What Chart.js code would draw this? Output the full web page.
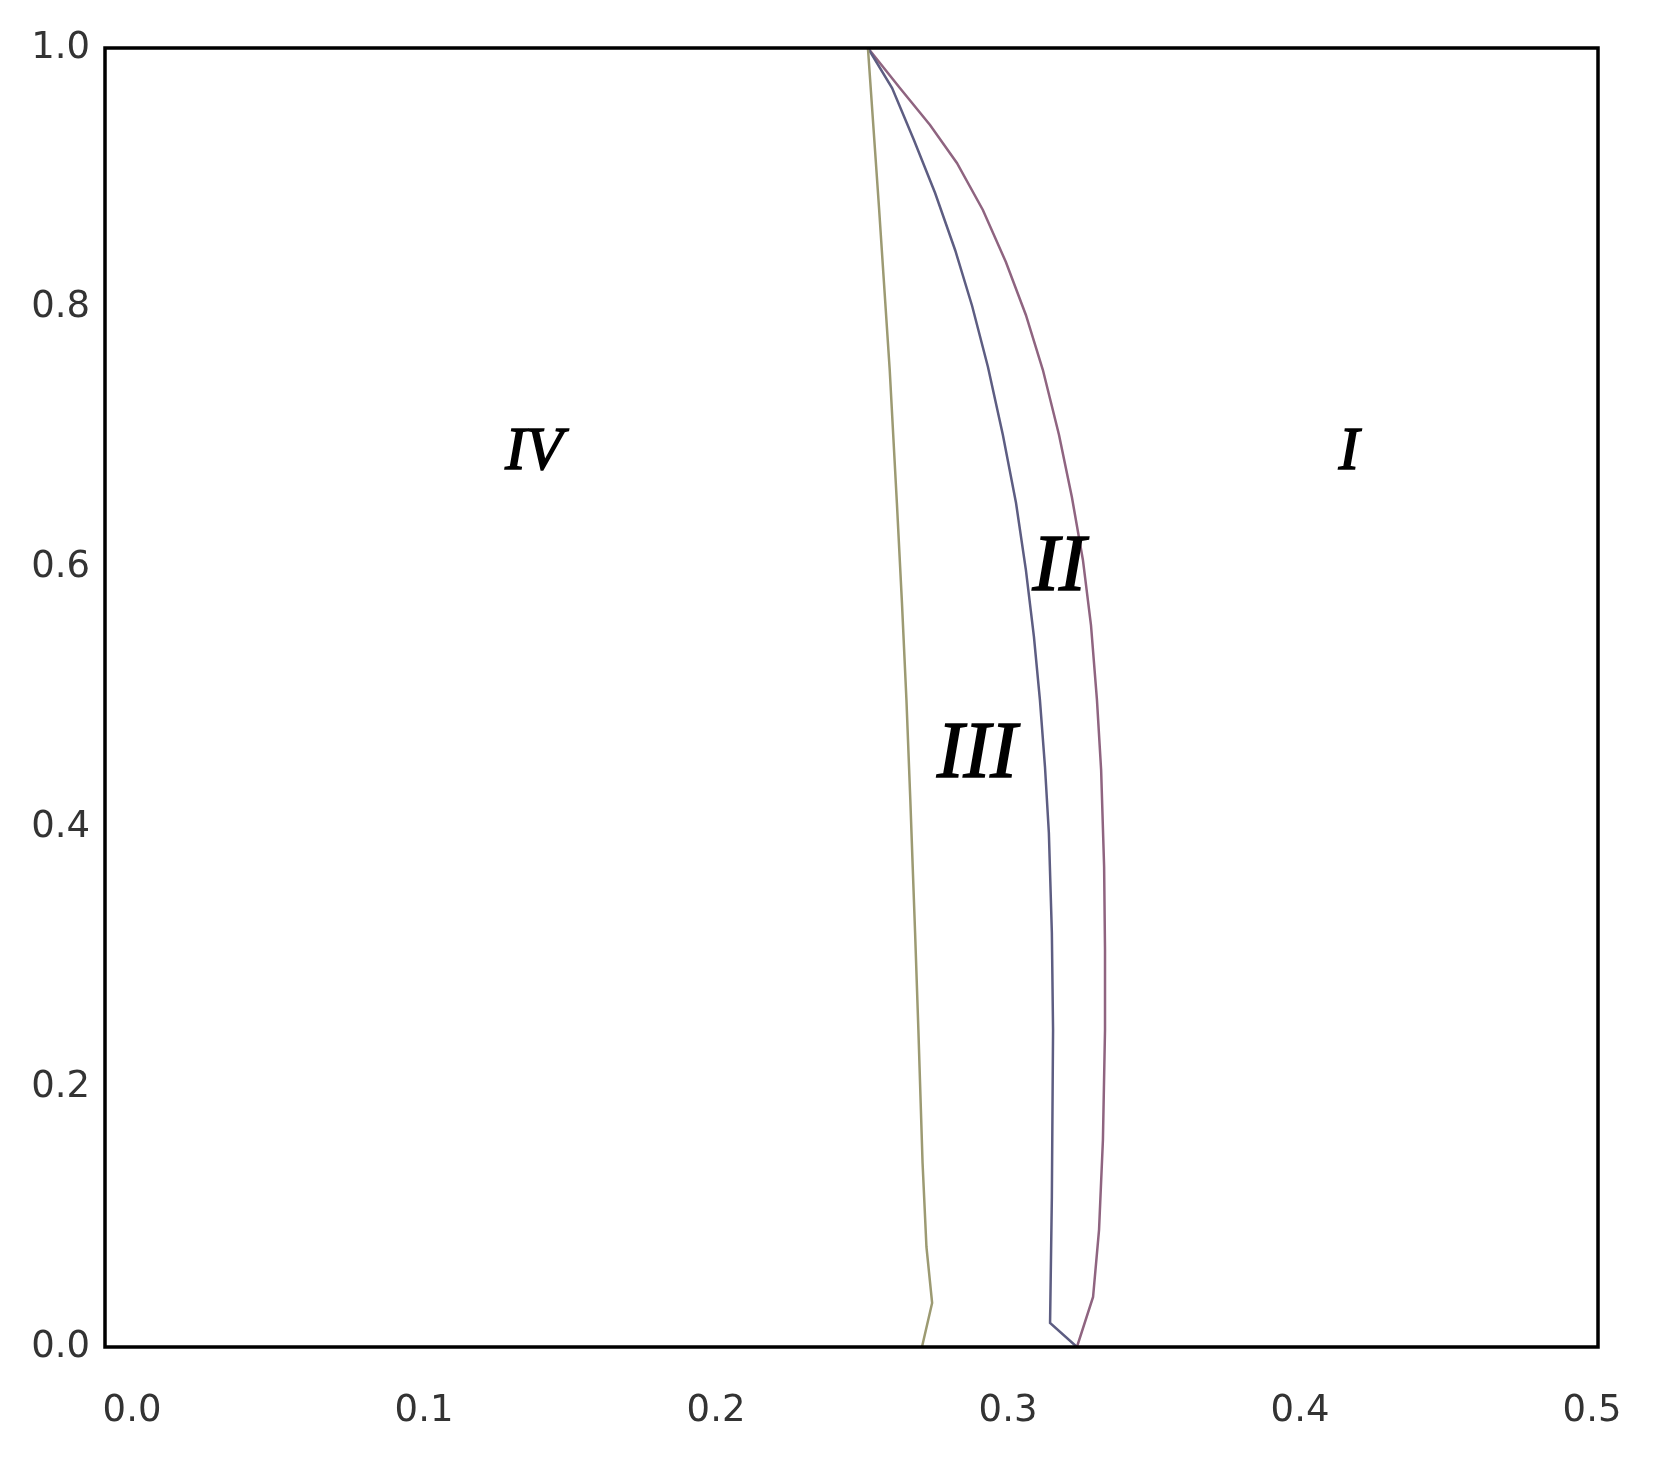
<!DOCTYPE html>
<html>
<head>
<meta charset="utf-8">
<script src="https://cdn.jsdelivr.net/npm/chart.js@4/dist/chart.umd.min.js"></script>
<style>
  html, body { margin: 0; padding: 0; background: #fff; }
  canvas { display: block; }
</style>
</head>
<body>
<canvas id="phase" width="1659" height="1466"></canvas>
<script>
// boundary curves as [x, y]
const yellowCurve = [
  [0.2555, 1.0], [0.2592, 0.8776], [0.2628, 0.7521], [0.2652, 0.6497], [0.2669, 0.5727],
  [0.2684, 0.4981], [0.2697, 0.4211], [0.2705, 0.3695], [0.2713, 0.3187], [0.2724, 0.2440],
  [0.2738, 0.1416], [0.2751, 0.0770], [0.2770, 0.0339], [0.2736, 0.0]
];
const blueCurve = [
  [0.2555, 1.0], [0.2636, 0.9692], [0.2709, 0.9292], [0.2780, 0.8884], [0.2847, 0.8445],
  [0.2904, 0.8014], [0.2957, 0.7544], [0.3007, 0.7021], [0.3051, 0.6497], [0.3084, 0.5982],
  [0.3111, 0.5466], [0.3131, 0.4981], [0.3148, 0.4465], [0.3161, 0.3957], [0.3171, 0.3187],
  [0.3175, 0.2440], [0.3171, 0.1155], [0.3165, 0.0185], [0.3255, 0.0]
];
const pinkCurve = [
  [0.2555, 1.0], [0.2662, 0.9692], [0.2763, 0.9407], [0.2853, 0.9115], [0.2940, 0.8753],
  [0.3017, 0.8353], [0.3084, 0.7945], [0.3141, 0.7521], [0.3195, 0.7021], [0.3238, 0.6543],
  [0.3275, 0.6059], [0.3302, 0.5558], [0.3322, 0.4981], [0.3336, 0.4442], [0.3346, 0.3695],
  [0.3349, 0.3056], [0.3349, 0.2440], [0.3342, 0.1594], [0.3329, 0.0901], [0.3309, 0.0385],
  [0.3255, 0.0]
];

const xTicks = [0.0, 0.1, 0.2, 0.3, 0.4, 0.5];
const yTicks = [0.0, 0.2, 0.4, 0.6, 0.8, 1.0];

// region names and where they sit (data coords)
const regionNames = ['IV', 'I', 'II', 'III'];
const regionX = [0.1437, 0.4166, 0.3195, 0.2920];
const regionY = [0.688, 0.688, 0.599, 0.455];
const regionSize = [61, 61, 80, 80];

const toPoints = arr => arr.map(p => ({ x: p[0], y: p[1] }));

const frame = {
  id: 'frame',
  afterDatasetsDraw(chart) {
    const { ctx, chartArea: a, scales } = chart;
    ctx.save();
    ctx.fillStyle = '#000';
    ctx.strokeStyle = '#000';
    ctx.lineWidth = 1.6;
    ctx.textAlign = 'center';
    ctx.textBaseline = 'middle';
    regionNames.forEach((name, i) => {
      const px = scales.x.getPixelForValue(regionX[i]);
      const py = scales.y.getPixelForValue(regionY[i]);
      ctx.font = 'italic ' + regionSize[i] + 'px "Liberation Serif"';
      ctx.fillText(name, px, py);
      ctx.strokeText(name, px, py);
    });
    ctx.lineWidth = 3.5;
    ctx.strokeRect(a.left, a.top, a.right - a.left, a.bottom - a.top);
    ctx.restore();
  }
};

const line = (data, color) => ({
  data: toPoints(data),
  showLine: true,
  borderColor: color,
  borderWidth: 2.5,
  pointRadius: 0,
  tension: 0,
  fill: false
});

const noEdgePad = s => { s.paddingLeft = 0; s.paddingRight = 0; s.paddingTop = 0; s.paddingBottom = 0; };
const tickFont = { family: 'DejaVu Sans', size: 37 };

new Chart(document.getElementById('phase'), {
  type: 'scatter',
  data: {
    datasets: [
      line(yellowCurve, '#9c9a72'),
      line(blueCurve, '#5d5d82'),
      line(pinkCurve, '#8f6480')
    ]
  },
  options: {
    responsive: false,
    animation: false,
    devicePixelRatio: 1,
    layout: { padding: { top: 48, right: 61, left: 0, bottom: 0 } },
    plugins: { legend: { display: false }, tooltip: { enabled: false } },
    scales: {
      x: {
        type: 'linear', min: 0, max: 0.5,
        display: false
      },
      // the printed x labels sit slightly off the data grid in the original
      xLabels: {
        type: 'linear', position: 'bottom', axis: 'x',
        min: -0.00925, max: 0.50205,
        afterBuildTicks: s => { s.ticks = xTicks.map(v => ({ value: v })); },
        afterFit: s => { s.height = 119; noEdgePad(s); },
        grid: { display: false, drawTicks: false },
        border: { display: false },
        ticks: {
          padding: 42,
          color: '#333',
          font: tickFont,
          callback: v => v.toFixed(1)
        }
      },
      y: {
        type: 'linear', min: 0, max: 1,
        afterBuildTicks: s => { s.ticks = yTicks.map(v => ({ value: v })); },
        afterFit: s => { s.width = 105; noEdgePad(s); },
        grid: { display: false, drawTicks: false },
        border: { display: false },
        ticks: {
          padding: 15,
          color: '#333',
          font: tickFont,
          callback: v => v.toFixed(1)
        }
      }
    }
  },
  plugins: [frame]
});
</script>
</body>
</html>
